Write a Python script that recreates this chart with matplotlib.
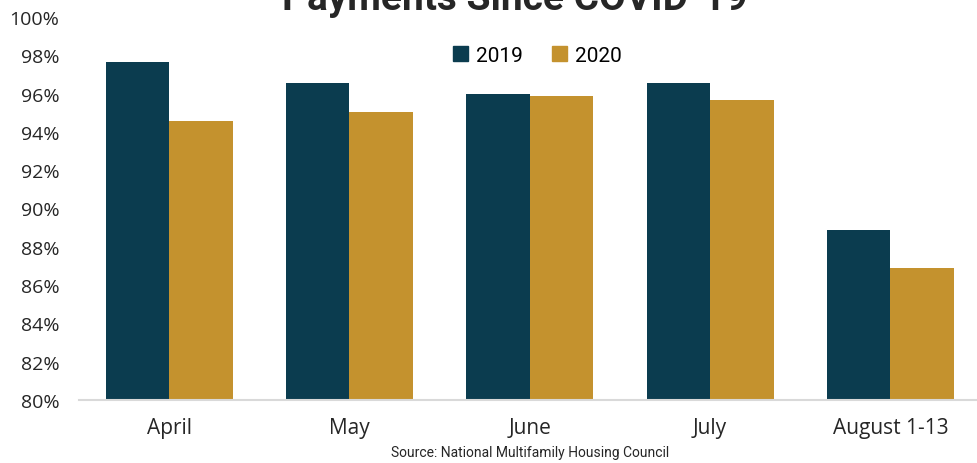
import numpy as np
import matplotlib.pyplot as plt
from matplotlib.patches import Patch

months = ['April', 'May', 'June', 'July', 'August 1-13']
pay_2019 = [97.65, 96.55, 95.98, 96.55, 88.88]
pay_2020 = [94.57, 95.04, 95.87, 95.67, 86.89]
y_ticks = [80, 82, 84, 86, 88, 90, 92, 94, 96, 98, 100]

c2019 = '#0B3C4F'
c2020 = '#C4922E'

fig = plt.figure(figsize=(9.77, 4.64), dpi=100)
ax = fig.add_axes([79 / 977, 63 / 464, 898 / 977, 383 / 464])

x = np.arange(len(months))
w = 0.352
ax.bar(x - w / 2, pay_2019, w, color=c2019, label='2019')
ax.bar(x + w / 2, pay_2020, w, color=c2020, label='2020')

ax.set_ylim(80, 100)
ax.set_xlim(-0.5, 4.48)
ax.set_yticks(y_ticks)
ax.set_yticklabels([f'{v}%' for v in y_ticks], fontfamily='Open Sans', fontsize=14, color='#262626')
ax.set_xticks(x)
ax.set_xticklabels(months, fontfamily='Open Sans', fontsize=15, color='#262626')
ax.tick_params(axis='y', length=0, pad=14)
ax.tick_params(axis='x', length=0, pad=12)

for s in ['top', 'right', 'left']:
    ax.spines[s].set_visible(False)
ax.spines['bottom'].set_color('#D9D9D9')
ax.spines['bottom'].set_linewidth(1.5)

handles = [Patch(color=c2019, label='2019'), Patch(color=c2020, label='2020')]
fig.legend(handles=handles, loc='center', bbox_to_anchor=(537 / 977, 1 - 56 / 464),
           ncol=2, frameon=False, handlelength=0.75, handleheight=0.75,
           handletextpad=0.35, columnspacing=1.4,
           prop={'family': 'Roboto', 'size': 15})

fig.text(515 / 977, 1 - 10 / 464, 'Payments Since COVID-19', ha='center', va='baseline',
         fontfamily='Roboto', fontweight='bold', fontsize=28, color='#262626')

fig.text(530 / 977, 1 - 453 / 464, 'Source: National Multifamily Housing Council',
         ha='center', va='center', fontfamily='Roboto', fontsize=10, color='#262626')

fig.savefig('out.png', dpi=100)
